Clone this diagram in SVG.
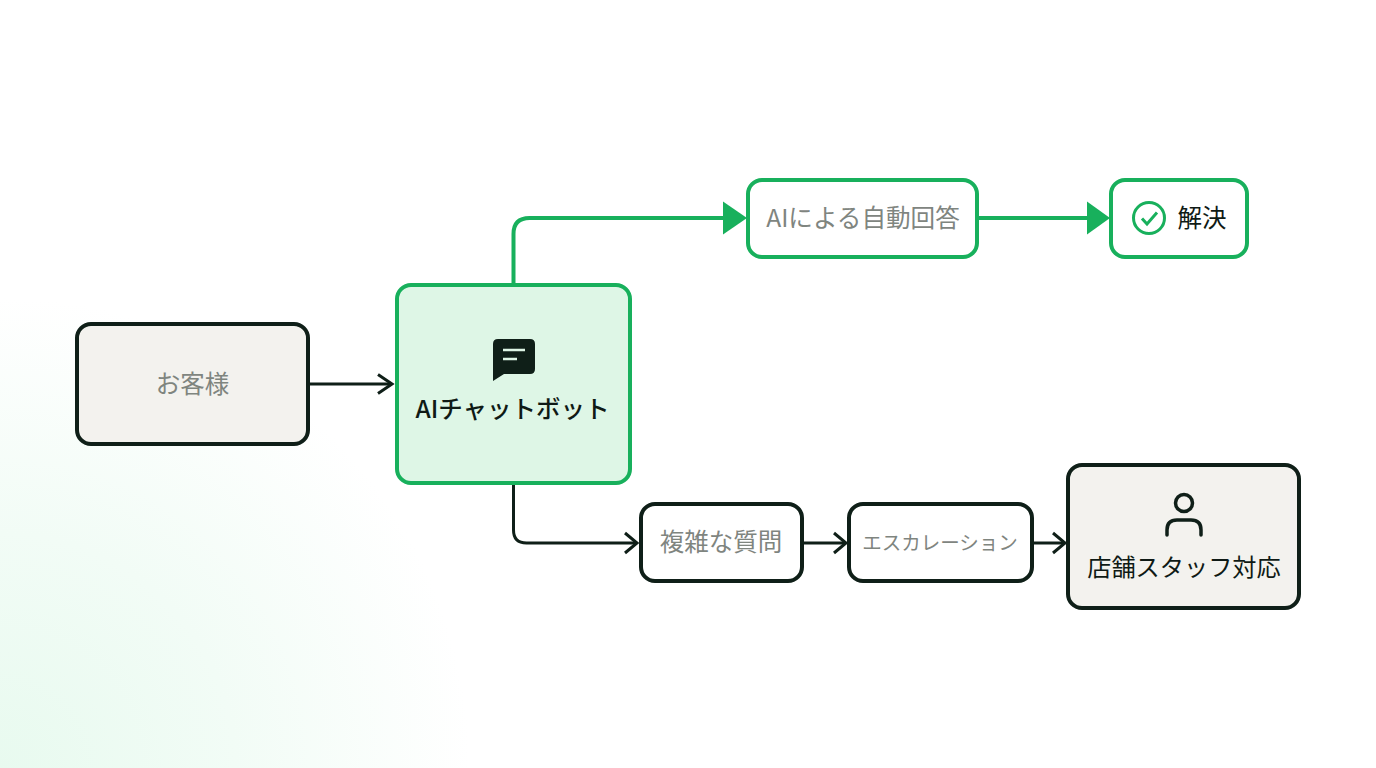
<svg xmlns="http://www.w3.org/2000/svg" width="1376" height="768" viewBox="0 0 1376 768">
<style>
.t{font-family:"Noto Sans CJK JP","Noto Sans",sans-serif;text-anchor:middle}
.g{fill:#7f857f;font-weight:400}
.d{fill:#0f1a15;font-weight:500}
.nd{stroke:#0f1f18;stroke-width:4}
.ng{stroke:#18b05c;stroke-width:4}
.cd{fill:none;stroke:#0f1f18;stroke-width:3}
.cg{fill:none;stroke:#18b05c;stroke-width:4}
</style>
<defs>
<radialGradient id="bg" gradientUnits="userSpaceOnUse" cx="0" cy="768" r="470">
<stop offset="0" stop-color="#e8faef"/>
<stop offset="0.5" stop-color="#f2fcf6"/>
<stop offset="1" stop-color="#ffffff"/>
</radialGradient>
</defs>
<rect width="1376" height="768" fill="#fff"/>
<rect width="1376" height="768" fill="url(#bg)"/>
<g id="connectors">
<path class="cd" d="M309 384H391"/>
<path class="cd" d="M378 374.500L392 384L378 393.500"/>
<path class="cg" d="M513.500 285V234Q513.500 218 529.500 218H726"/>
<path d="M723 201.500L747 218L723 234.500Z" fill="#18b05c"/>
<path class="cg" d="M979 218H1090"/>
<path d="M1087 201.500L1110 218L1087 234.500Z" fill="#18b05c"/>
<path class="cd" d="M513.500 484V530Q513.500 543 526.500 543H636"/>
<path class="cd" d="M625 533L637 543L625 553"/>
<path class="cd" d="M803 543H844"/>
<path class="cd" d="M834 533L846 543L834 553"/>
<path class="cd" d="M1033 543H1063"/>
<path class="cd" d="M1053 533L1065 543L1053 553"/>
</g>
<g id="customer">
<rect class="nd" x="77" y="324" width="231" height="120" rx="14" fill="#f3f2ee"/>
<text class="t g" x="192.500" y="393" font-size="24.500">お客様</text>
</g>
<g id="chatbot">
<rect class="ng" x="397" y="285" width="233" height="198" rx="14" fill="#def6e6"/>
<path d="M498 339H530Q535 339 535 344V369Q535 374 530 374H504L493 381V344Q493 339 498 339Z" fill="#0f1f18"/>
<path d="M503 350H525M503 359H517" stroke="#def6e6" stroke-width="2.500" fill="none"/>
<text class="t d" x="512.500" y="418" font-size="24.500">AIチャットボット</text>
</g>
<g id="auto-answer">
<rect class="ng" x="748" y="180" width="229" height="77" rx="14" fill="#fff"/>
<text class="t g" x="863" y="227" font-size="24.600">AIによる自動回答</text>
</g>
<g id="resolved">
<rect class="ng" x="1111" y="180" width="136" height="77" rx="14" fill="#fff"/>
<circle cx="1149" cy="218" r="15.500" fill="none" stroke="#18b05c" stroke-width="3"/>
<path d="M1142 218.500L1147 224L1157 212.500" fill="none" stroke="#18b05c" stroke-width="3"/>
<text class="t d" x="1202" y="227" font-size="24.500" style="font-weight:400">解決</text>
</g>
<g id="complex">
<rect class="nd" x="641" y="504" width="161" height="77" rx="14" fill="#fff"/>
<text class="t g" x="721" y="551" font-size="24.500">複雑な質問</text>
</g>
<g id="escalation">
<rect class="nd" x="849" y="504" width="183" height="77" rx="14" fill="#fff"/>
<text class="t g" x="940" y="549.500" font-size="19.500">エスカレーション</text>
</g>
<g id="staff">
<rect class="nd" x="1068" y="465" width="231" height="143" rx="14" fill="#f3f2ee"/>
<circle cx="1184" cy="503" r="8.500" fill="none" stroke="#0f1f18" stroke-width="3.500"/>
<path d="M1167 535V530Q1167 520 1177 520H1191Q1201 520 1201 530V535" fill="none" stroke="#0f1f18" stroke-width="3.500" stroke-linecap="round"/>
<text class="t d" x="1184" y="575.500" font-size="24.200" style="font-weight:400">店舗スタッフ対応</text>
</g>
</svg>
